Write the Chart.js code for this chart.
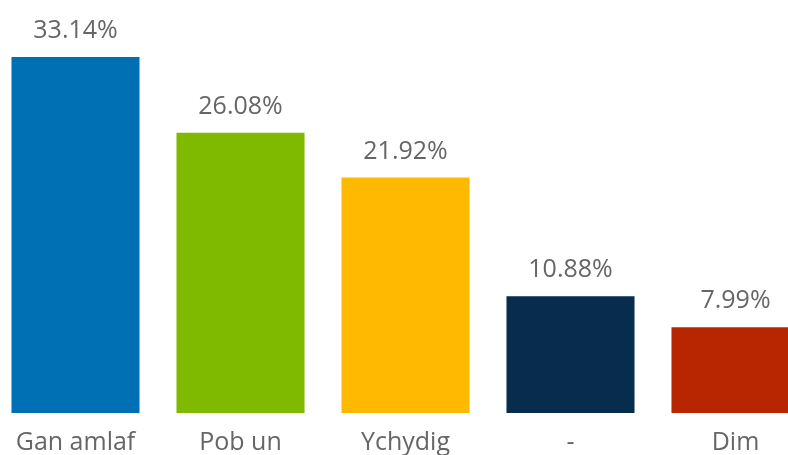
<!DOCTYPE html>
<html>
<head>
<meta charset="utf-8">
<script src="https://cdn.jsdelivr.net/npm/chart.js@4"></script>
<style>
  html, body { margin: 0; padding: 0; background: #fff; }
  #wrap { position: relative; width: 788px; height: 455px; overflow: hidden; }
  #wrap canvas { position: absolute; left: -7px; top: 0; }
</style>
</head>
<body>
<div id="wrap"><canvas id="bars" width="825" height="455"></canvas></div>
<script>
// Data
const categories = ['Gan amlaf', 'Pob un', 'Ychydig', '-', 'Dim'];
const values = [33.14, 26.08, 21.92, 10.88, 7.99];
const colours = ['#0070b4', '#7fba00', '#ffb900', '#072c4d', '#b82601'];

const GREY = '#666666';
const FONT = '"Open Sans", "Noto Sans", sans-serif';

// percentage labels over each bar
const valueLabels = {
  id: 'valueLabels',
  afterDatasetsDraw(chart) {
    const ctx = chart.ctx;
    const meta = chart.getDatasetMeta(0);
    ctx.save();
    ctx.font = '25px ' + FONT;
    ctx.fillStyle = GREY;
    ctx.textAlign = 'center';
    ctx.textBaseline = 'alphabetic';
    meta.data.forEach((bar, i) => {
      ctx.fillText(values[i].toFixed(2) + '%', bar.x, bar.y - 19);
    });
    ctx.restore();
  }
};

new Chart(document.getElementById('bars'), {
  type: 'bar',
  data: {
    labels: categories,
    datasets: [{
      data: values,
      backgroundColor: colours,
      borderWidth: 0,
      categoryPercentage: 1,
      barPercentage: 0.776
    }]
  },
  options: {
    responsive: false,
    animation: false,
    layout: { padding: 0 },
    plugins: { legend: { display: false }, tooltip: { enabled: false } },
    scales: {
      y: { display: false, min: 0, max: 38.45 },
      x: {
        grid: { display: false, drawTicks: false },
        border: { display: false },
        ticks: { color: GREY, font: { size: 25, family: FONT }, padding: 15 },
        afterFit(s) { s.height = 42; }
      }
    }
  },
  plugins: [valueLabels]
});
</script>
</body>
</html>
